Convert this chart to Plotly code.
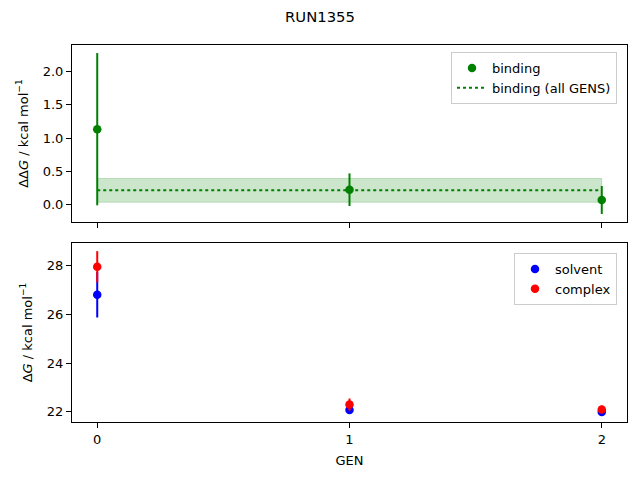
import plotly.graph_objects as go

# dados
gens = [0, 1, 2]
binding = [1.135, 0.225, 0.07]
binding_err = [1.145, 0.245, 0.21]
binding_all = 0.215
binding_all_err = 0.178

solvent = [26.8, 22.08, 22.0]
solvent_err = [0.93, 0.1, 0.08]
complex_ = [27.95, 22.3, 22.1]
complex_err = [0.64, 0.25, 0.15]

FONT = "DejaVu Sans"
GREEN = "#008000"


def pad_range(vals, errs, extra=()):
    lo = min([v - e for v, e in zip(vals, errs)] + list(extra))
    hi = max([v + e for v, e in zip(vals, errs)] + list(extra))
    pad = 0.05 * (hi - lo)
    return [lo - pad, hi + pad]


fig = go.Figure()

# faixa de incerteza do binding (todas as GENs)
fig.add_trace(go.Scatter(
    x=[gens[0], gens[-1], gens[-1], gens[0], gens[0]],
    y=[binding_all - binding_all_err] * 2 + [binding_all + binding_all_err] * 2
      + [binding_all - binding_all_err],
    fill="toself", fillcolor="rgba(0,128,0,0.2)",
    line=dict(color="rgba(0,128,0,0.2)", width=1),
    mode="lines", hoverinfo="skip", showlegend=False,
    xaxis="x", yaxis="y",
))
fig.add_trace(go.Scatter(
    x=gens, y=binding, mode="markers", name="binding",
    marker=dict(color=GREEN, size=8.5),
    error_y=dict(type="data", array=binding_err, color=GREEN, thickness=2, width=0),
    xaxis="x", yaxis="y", legend="legend",
))
fig.add_trace(go.Scatter(
    x=[gens[0], gens[-1]], y=[binding_all, binding_all], mode="lines",
    name="binding (all GENS)", line=dict(color=GREEN, dash="dot", width=2),
    xaxis="x", yaxis="y", legend="legend",
))

# painel de baixo: solvent e complex
fig.add_trace(go.Scatter(
    x=gens, y=solvent, mode="markers", name="solvent",
    marker=dict(color="#0000ff", size=8.5),
    error_y=dict(type="data", array=solvent_err, color="#0000ff", thickness=2, width=0),
    xaxis="x2", yaxis="y2", legend="legend2",
))
fig.add_trace(go.Scatter(
    x=gens, y=complex_, mode="markers", name="complex",
    marker=dict(color="#ff0000", size=8.5),
    error_y=dict(type="data", array=complex_err, color="#ff0000", thickness=2, width=0),
    xaxis="x2", yaxis="y2", legend="legend2",
))

axis_style = dict(
    showline=True, linecolor="black", linewidth=1, mirror=True,
    ticks="outside", ticklen=5, tickcolor="black", showgrid=False,
    zeroline=False, automargin=False, tickfont=dict(size=13, color="black"),
)
title_font = dict(size=13, color="black")
xrange = [-0.1, 2.1]

fig.update_layout(
    width=640, height=480,
    margin=dict(l=0, r=0, t=0, b=0),
    paper_bgcolor="white", plot_bgcolor="white",
    font=dict(family=FONT, size=13, color="black"),
    title=dict(text="RUN1355", x=0.5, xanchor="center", y=1 - 17 / 480,
               yanchor="middle", font=dict(size=14.8)),
    xaxis=dict(domain=[72 / 640, 627 / 640], anchor="y", range=xrange,
               tickvals=gens, showticklabels=False, **axis_style),
    yaxis=dict(domain=[1 - 222 / 480, 1 - 45 / 480], anchor="x",
               range=pad_range(binding, binding_err), dtick=0.5, tickformat=".1f",
               title=dict(text="ΔΔ<i>G</i> / kcal mol<sup>−1</sup>", standoff=11,
                          font=title_font),
               **axis_style),
    xaxis2=dict(domain=[72 / 640, 627 / 640], anchor="y2", range=xrange,
                tickvals=gens, title=dict(text="GEN", standoff=10, font=title_font),
                **axis_style),
    yaxis2=dict(domain=[1 - 422 / 480, 1 - 243 / 480], anchor="x2",
                range=pad_range(solvent + complex_, solvent_err + complex_err), dtick=2,
                title=dict(text="Δ<i>G</i> / kcal mol<sup>−1</sup>", standoff=11,
                           font=title_font),
                **axis_style),
    legend=dict(x=617 / 640, y=1 - 52 / 480, xanchor="right", yanchor="top",
                bordercolor="#cccccc", borderwidth=1, bgcolor="rgba(255,255,255,0.8)",
                font=dict(size=13)),
    legend2=dict(x=617 / 640, y=1 - 253 / 480, xanchor="right", yanchor="top",
                 bordercolor="#cccccc", borderwidth=1, bgcolor="rgba(255,255,255,0.8)",
                 font=dict(size=13)),
)

# tira a margem padrão do body para o gráfico ficar colado no canto
fig.write_html(
    "out.html",
    config={"displayModeBar": False},
    post_script="document.body.style.margin='0';",
)
